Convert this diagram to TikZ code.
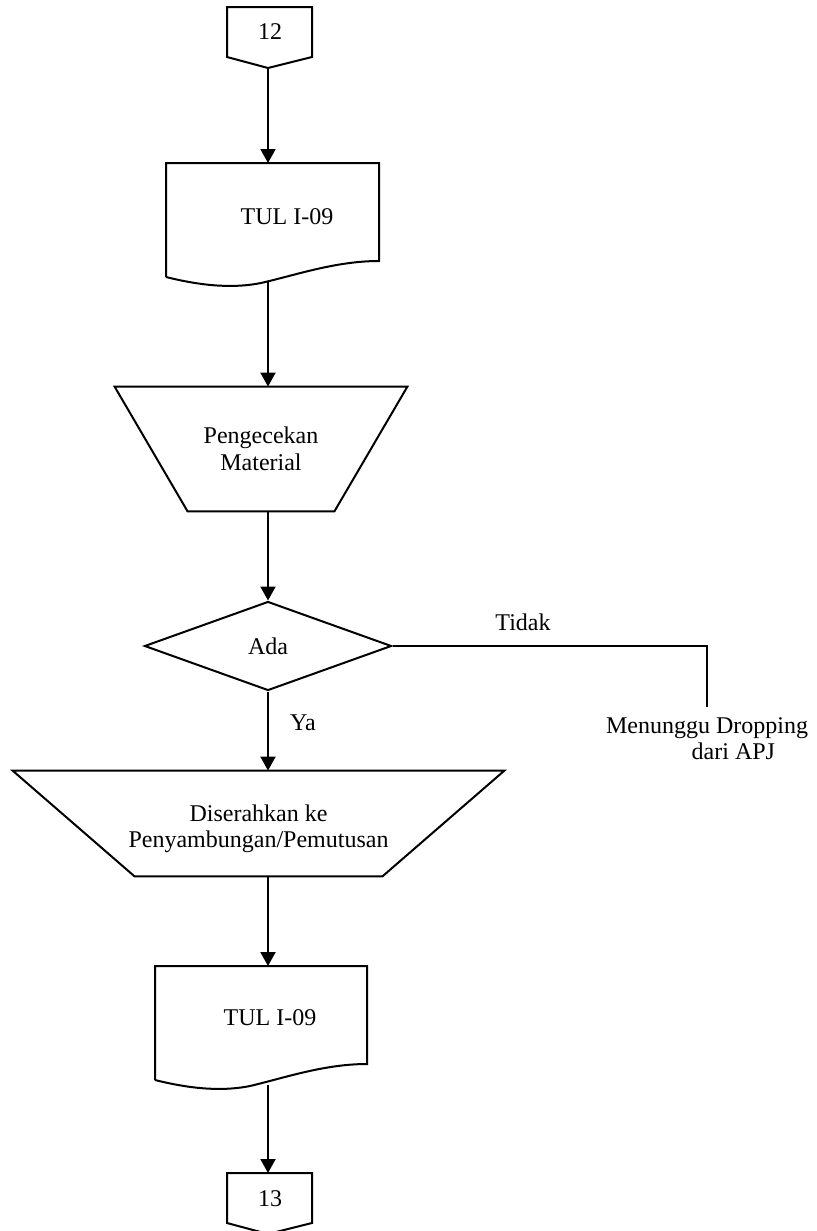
\documentclass[tikz,border=0pt]{standalone}
\usepackage{fontspec}
\setmainfont{Liberation Serif}
\usetikzlibrary{shapes.geometric,arrows.meta}

\tikzset{
  line/.style={line width=1pt},
  flow/.style={line width=1pt, -{Triangle[length=7pt,width=7.5pt]}},
  txt/.style={inner sep=0pt, align=center, font=\fontsize{12}{13}\selectfont},
  manualbox/.style={rectangle, inner sep=0pt, align=center,
    font=\fontsize{12}{13.5}\selectfont},
  decision/.style={diamond, draw, line width=1pt, inner sep=0pt,
    font=\fontsize{12}{13}\selectfont},
  pics/docshape/.style={code={
    \draw[line] (0,114) -- (0,0) -- (#1,0) -- (#1,98)
      .. controls (#1-43,98) and (#1-83,112) .. (95,120)
      .. controls (70,125) and (40,124) .. (0,114);
    \coordinate (-top) at (100,0);
    \coordinate (-bot) at (100,119);
  }},
  pics/pageconn/.style={code={
    \draw[line] (0,0) -- (85,0) -- (85,50) -- (41,61) -- (0,50) -- cycle;
    \coordinate (-top) at (41,0);
    \coordinate (-tip) at (41,61);
  }},
}

\begin{document}
\begin{tikzpicture}[x=0.5pt, y=-0.5pt]
  \useasboundingbox (0,0) rectangle (816,1231);

  % off-page connector in
  \pic (c12) at (227,7) {pageconn};
  \node [txt] (n12) at (270,32) {12};

  % first document
  \pic (tul1) at (166,163) {docshape=213};
  \node [txt] (doc1) at (287,217) {TUL I-09};

  % manual operation
  \node [manualbox, minimum width=146pt, minimum height=62pt]
    (pc) at (261,449) {Pengecekan\\Material};
  \draw [line] (pc.north west) -- (pc.north east)
    -- ([xshift=-36.5pt]pc.south east) -- ([xshift=36.5pt]pc.south west) -- cycle;

  % decision
  \node [decision, minimum width=123.5pt, minimum height=44.5pt]
    (ada) at (268,646) {Ada};

  \node [txt, anchor=north, inner xsep=0pt, inner ysep=5pt] (wait) at (707,707)
    {Menunggu Dropping\\\hspace*{2.2em}dari APJ};

  \node [manualbox, minimum width=245.5pt, minimum height=52.5pt,
    label={[txt, yshift=-2.5pt]center:{Diserahkan ke\\Penyambungan/Pemutusan}}]
    (sr) at (258.5,823.5) {};
  \draw [line] (sr.north west) -- (sr.north east)
    -- ([xshift=-61pt]sr.south east) -- ([xshift=61pt]sr.south west) -- cycle;

  % second document
  \pic (tul2) at (155,966) {docshape=212};
  \node [txt] (doc2) at (270,1018) {TUL I-09};

  % off-page connector out
  \pic (c13) at (227,1173) {pageconn};
  \node [txt] (n13) at (270,1199) {13};

  % labels
  \node [txt] (no) at (523,622) {Tidak};
  \node [txt] (yes) at (303,723) {Ya};

  % connectors
  \draw [flow] (c12-tip) -- (c12-tip |- tul1-top);
  \draw [flow] (ada |- tul1-bot) -- (ada |- pc.north);
  \draw [flow] (ada |- pc.south) -- (ada.north);
  \draw [flow] (ada.south) -- (ada |- sr.north);
  \draw [flow] (ada |- sr.south) -- (ada |- tul2-top);
  \draw [flow] (ada |- tul2-bot) -- (c13-top);
  \draw [line] (ada.east) -| (wait.north);
\end{tikzpicture}
\end{document}
